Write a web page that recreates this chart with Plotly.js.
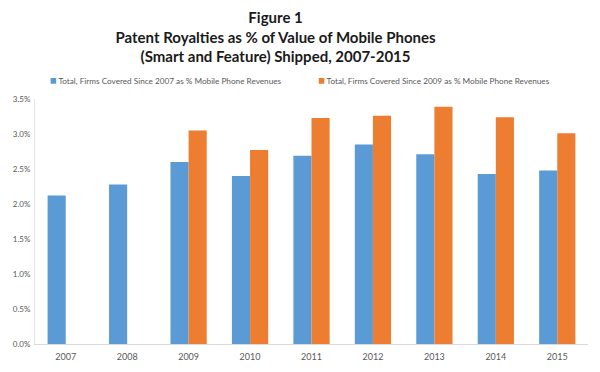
<!DOCTYPE html>
<html>
<head>
<meta charset="utf-8">
<script src="https://cdn.plot.ly/plotly-3.0.1.min.js"></script>
<style>html,body{margin:0;padding:0;background:#fff;}#chart{width:600px;height:372px;}</style>
</head>
<body>
<div id="chart"></div>
<script>
const years = ['2007','2008','2009','2010','2011','2012','2013','2014','2015'];
const since2007 = [2.12, 2.28, 2.60, 2.40, 2.69, 2.85, 2.71, 2.43, 2.48];
const since2009 = [null, null, 3.05, 2.77, 3.23, 3.26, 3.39, 3.24, 3.01];
const seriesNames = [
  'Total, Firms Covered Since 2007 as % Mobile Phone Revenues',
  'Total, Firms Covered Since 2009 as % Mobile Phone Revenues'
];
const yTicks = [0, 0.5, 1.0, 1.5, 2.0, 2.5, 3.0, 3.5];
const yTickText = yTicks.map(v => v.toFixed(1) + '%');

const traces = [
  {type:'bar', x:years, y:since2007, name:seriesNames[0], marker:{color:'#5B9BD5'}},
  {type:'bar', x:years, y:since2009, name:seriesNames[1], marker:{color:'#ED7D31'}}
];

const layout = {
  width:600, height:372,
  paper_bgcolor:'#fff', plot_bgcolor:'#fff',
  margin:{l:35, r:12, t:99, b:28},
  font:{family:'Lato, "Open Sans", sans-serif', color:'#595959'},
  title:{
    text:'Figure 1<br>Patent Royalties as % of Value of Mobile Phones<br>(Smart and Feature) Shipped, 2007-2015',
    font:{family:'Lato, "Open Sans", sans-serif', size:15, color:'#1a1a1a', weight:'bold'},
    x:0.435, xanchor:'center', xref:'paper', y:0.937, yanchor:'top', yref:'container', automargin:false
  },
  barmode:'group', bargap:0.41, bargroupgap:0,
  showlegend:true,
  legend:{orientation:'h', x:-0.03, xanchor:'left', y:1.074, yanchor:'middle',
    font:{size:8.2, color:'#595959'}, itemwidth:30, bgcolor:'rgba(0,0,0,0)'},
  xaxis:{type:'category', showgrid:false, zeroline:false, showline:true, linecolor:'#d9d9d9', linewidth:1,
    ticks:'', ticklabelstandoff:4, tickfont:{size:9, color:'#595959'}},
  yaxis:{range:[0,3.5], tickmode:'array', tickvals:yTicks, ticktext:yTickText, showgrid:false, zeroline:false,
    showline:true, linecolor:'#e6e6e6', linewidth:1, ticks:'', ticklabelstandoff:2, tickfont:{size:8, color:'#595959'}}
};

Plotly.newPlot('chart', traces, layout, {displayModeBar:false, staticPlot:true}).then(gd => {
  // shrink legend swatches to small squares placed just before the text, like the reference
  gd.querySelectorAll('.legend .traces .legendpoints').forEach(g => {
    g.setAttribute('transform', 'translate(15,0)');
    g.querySelectorAll('path').forEach(p => p.setAttribute('d', 'M2.8,2.8H-2.8V-2.8H2.8Z'));
  });
});
</script>
</body>
</html>
